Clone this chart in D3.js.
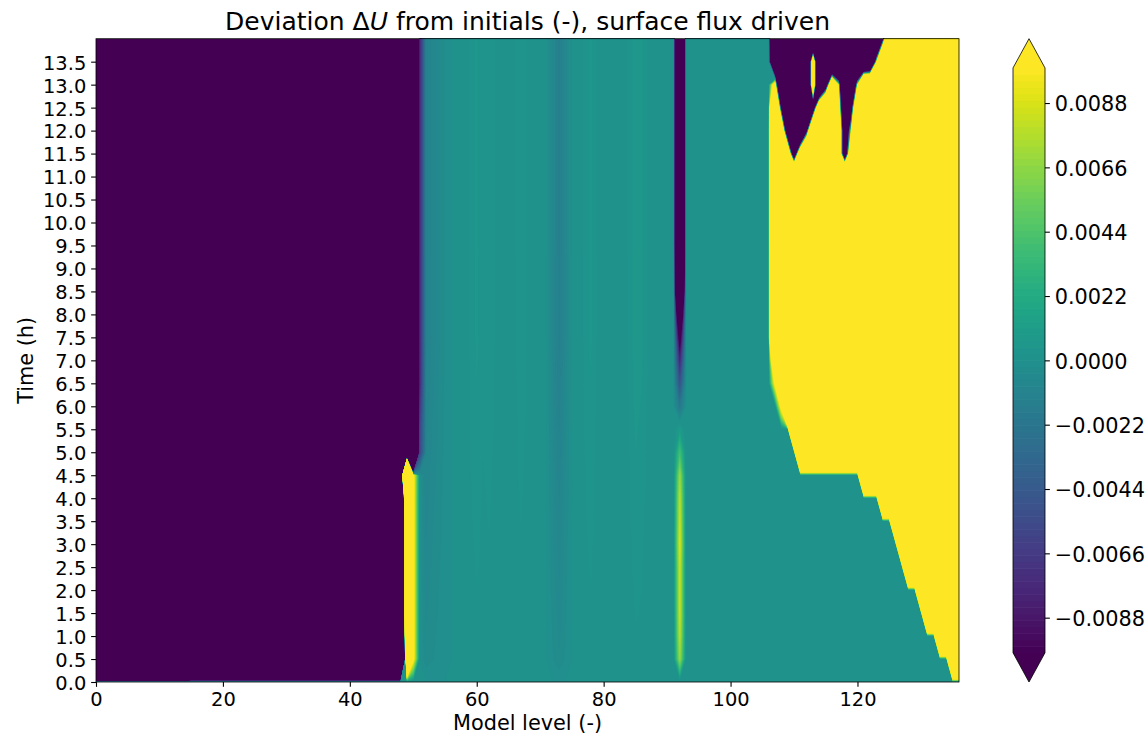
<!DOCTYPE html>
<html>
<head>
<meta charset="utf-8">
<script src="https://cdn.jsdelivr.net/npm/d3@7"></script>
<style>
  html, body { margin: 0; padding: 0; background: #ffffff; }
  svg { display: block; font-family: "DejaVu Sans", sans-serif; }
</style>
</head>
<body>
<svg id="chart" width="1148" height="734"></svg>
<script>
// ---------------------------------------------------------------------------
// Grid: model levels (columns) and output times in hours (rows)
// ---------------------------------------------------------------------------
const levels = d3.range(0, 137);
const hours = [0.0, 0.5, 1.0, 1.5, 2.0, 2.5, 3.0, 3.5, 4.0, 4.5, 5.0, 5.5, 6.0, 6.5,
               7.0, 7.5, 8.0, 8.5, 9.0, 9.5, 10.0, 10.5, 11.0, 11.5, 12.0, 12.5, 13.0, 13.5, 14.0];

// Deep negative block in the lower model levels (all rows after t = 0)
const leftBlockSpans = [
  { from: 0,  to: 14, value: -0.40 },
  { from: 15, to: 48, value: -0.15 }
];

// Columns at the edge of the lower block, one value per output time
const lvl49 = [0, 0.05, 0.08, 0.1, 0.1, 0.1, 0.1, 0.1, 0.12, 0.4,
               -0.15, -0.15, -0.15, -0.15, -0.15, -0.15, -0.15, -0.15, -0.15, -0.15,
               -0.15, -0.15, -0.15, -0.15, -0.15, -0.15, -0.15, -0.15, -0.15];
const lvl50 = [0, 0.011, 0.011, 0.011, 0.011, 0.011, 0.011, 0.011, 0.011, 0.011,
               -0.15, -0.15, -0.15, -0.15, -0.15, -0.15, -0.15, -0.15, -0.15, -0.15,
               -0.15, -0.15, -0.15, -0.15, -0.15, -0.15, -0.15, -0.15, -0.15];
const lvl51 = [0, 0, 0, 0, 0, 0, 0, 0, 0, 0,
               -0.006, -0.006, -0.007, -0.008, -0.008, -0.008, -0.008, -0.008, -0.008, -0.008,
               -0.008, -0.008, -0.008, -0.008, -0.008, -0.008, -0.008, -0.008, -0.008];

// Narrow jet at level 92, one value per output time
const col92 = [0, 0.007, 0.008, 0.0085, 0.0085, 0.0085, 0.009, 0.0085, 0.008, 0.007,
               0.004, 0.001, -0.002, -0.005, -0.008, -0.012, -0.02, -0.04, -0.05, -0.06,
               -0.06, -0.06, -0.06, -0.06, -0.06, -0.06, -0.06, -0.06, -0.06];

// Weak drift across the central band
const driftLevels = [52, 53, 54, 55, 59, 60, 61, 62, 63, 66, 67, 68, 72, 73, 74,
                     77, 78, 79, 84, 85, 86, 87];
const driftValues = [-0.0012, -0.0008, -0.0005, -0.0002, 0.0003, 0.0005, 0.0003, 0.0004,
                     0.0002, 0.0002, 0.0004, 0.0002, -0.0007, -0.0014, -0.0006,
                     0.0003, 0.0005, 0.0002, 0.0003, 0.0006, 0.0005, 0.0002];
const driftWeight = [0, 0.3, 0.35, 0.4, 0.45, 0.5, 0.55, 0.6, 0.65, 0.7,
                     0.75, 0.8, 0.85, 0.9, 0.95, 1, 1, 1, 1, 1,
                     1, 1, 1, 1, 1, 1, 1, 1, 1];

// Upper model levels: first strongly positive level per output time
const rightStart = [137, 135, 133, 131, 130, 128, 127, 126, 124, 121,
                    111, 110, 109, 108, 108, 107, 107, 107, 107, 107,
                    107, 107, 107, 107, 107, 107, 107, 107, 107];
// Partial value just below that level
const rightFringe = [0, 0, 0, 0, 0, 0, 0, 0, 0, 0,
                     0, 0, 0.012, 0.011, 0.025, 0, 0, 0, 0, 0,
                     0, 0, 0, 0, 0, 0, 0, 0, 0];
const positiveValue = 0.08;

// Negative pockets near the top levels late in the run: [start, end] levels
const lobeHours = [11.5, 12.0, 12.5, 13.0, 13.5, 14.0];
const lobeSpans = [
  [[109.5, 110.5], [117.5, 118.5]],
  [[108.5, 112.2], [117.5, 118.9]],
  [[107.8, 113.4], [117.3, 119.3]],
  [[107.2, 115.4], [117.1, 119.9]],
  [[106.4, 122.9]],
  [[106.0, 124.2]]
];
// Thin positive streak inside the first pocket
const spikeLevel = 113;
const spikeHours = [13.0, 13.5];
const spikeValues = [0.035, 0.035];

// Contour levels and colorbar ticks
const vmin = -0.01, vmax = 0.01;
const thresholds = d3.range(-45, 46).map(i => i * vmax / 45);
const xTicks = [0, 20, 40, 60, 80, 100, 120];
const yTicks = [0.0, 0.5, 1.0, 1.5, 2.0, 2.5, 3.0, 3.5, 4.0, 4.5, 5.0, 5.5, 6.0, 6.5,
                7.0, 7.5, 8.0, 8.5, 9.0, 9.5, 10.0, 10.5, 11.0, 11.5, 12.0, 12.5, 13.0, 13.5];
const cbarTicks = [-0.0088, -0.0066, -0.0044, -0.0022, 0.0, 0.0022, 0.0044, 0.0066, 0.0088];

// ---------------------------------------------------------------------------
// Assemble the field (row-major: one row per output time)
// ---------------------------------------------------------------------------
const nx = levels.length, ny = hours.length;
const field = new Float64Array(nx * ny);

hours.forEach((t, r) => {
  const row = new Array(nx).fill(0);
  driftLevels.forEach((L, k) => { row[L] = driftValues[k] * driftWeight[r]; });
  if (r > 0) {
    leftBlockSpans.forEach(s => { for (let L = s.from; L <= s.to; L++) row[L] = s.value; });
  }
  row[49] = lvl49[r];
  row[50] = lvl50[r];
  row[51] = lvl51[r];
  row[92] = col92[r];

  const s = rightStart[r];
  for (let L = s; L < nx; L++) row[L] = positiveValue;
  if (rightFringe[r]) row[s - 1] = rightFringe[r];

  const li = lobeHours.indexOf(t);
  if (li >= 0) {
    const spans = lobeSpans[li];
    for (let L = 100; L < nx; L++) {
      let inside = -1, outside = Infinity;
      spans.forEach(([a, b]) => {
        if (L >= a && L <= b) inside = Math.max(inside, Math.min(L - a, b - L));
        else outside = Math.min(outside, Math.abs(L - a), Math.abs(L - b));
      });
      if (inside >= 0) row[L] = -positiveValue * Math.min(1, inside);
      else if (L >= s) row[L] = Math.min(row[L], positiveValue * Math.min(1, outside));
    }
  }
  const si = spikeHours.indexOf(t);
  if (si >= 0) row[spikeLevel] = spikeValues[si];

  row.forEach((v, L) => { field[r * nx + L] = v; });
});

// ---------------------------------------------------------------------------
// Layout and scales
// ---------------------------------------------------------------------------
const plot = { left: 96, right: 959, top: 38.7, bottom: 682 };
const x = d3.scaleLinear().domain([0, 136]).range([plot.left, plot.right]);
const y = d3.scaleLinear().domain([0, 14]).range([plot.bottom, plot.top]);
const rowTime = d3.scaleLinear().domain([0.5, ny - 0.5]).range([hours[0], hours[ny - 1]]);

const step = thresholds[1] - thresholds[0];
const underColor = d3.interpolateViridis(0);
const overColor = d3.interpolateViridis(1);
const bandColor = k => k >= thresholds.length - 1
  ? overColor
  : d3.interpolateViridis((thresholds[k] + step / 2 - vmin) / (vmax - vmin));

const svg = d3.select('#chart');

svg.append('defs').append('clipPath').attr('id', 'plot-clip')
  .append('rect')
  .attr('x', plot.left).attr('y', plot.top)
  .attr('width', plot.right - plot.left).attr('height', plot.bottom - plot.top);

// ---------------------------------------------------------------------------
// Filled contours
// ---------------------------------------------------------------------------
const gridToScreen = d3.geoTransform({
  point(gx, gy) { this.stream.point(x(gx - 0.5), y(rowTime(gy))); }
});
const contourPath = d3.geoPath(gridToScreen);
const bands = d3.contours().size([nx, ny]).thresholds(thresholds)(field);

const layer = svg.append('g').attr('clip-path', 'url(#plot-clip)');
layer.append('rect')
  .attr('x', plot.left).attr('y', plot.top)
  .attr('width', plot.right - plot.left).attr('height', plot.bottom - plot.top)
  .attr('fill', underColor);
layer.selectAll('path.band')
  .data(bands)
  .join('path')
  .attr('class', 'band')
  .attr('d', contourPath)
  .attr('fill', (d, i) => bandColor(i));

// ---------------------------------------------------------------------------
// Axes
// ---------------------------------------------------------------------------
const tickLen = 4.86, tickPad = 4.86;

const styleAxis = (g, size) => {
  g.attr('font-family', '"DejaVu Sans", sans-serif').attr('font-size', size);
  g.select('.domain').remove();
  g.selectAll('.tick line').attr('stroke', '#000').attr('stroke-width', 1.1);
  g.selectAll('.tick text').attr('fill', '#000');
};

svg.append('g')
  .attr('transform', `translate(0,${plot.bottom})`)
  .call(d3.axisBottom(x).tickValues(xTicks).tickFormat(d3.format('d'))
    .tickSize(tickLen).tickPadding(tickPad).tickSizeOuter(0))
  .call(g => styleAxis(g, 19.44))
  .call(g => g.selectAll('.tick text').attr('dy', '0.71em'));

svg.append('g')
  .attr('transform', `translate(${plot.left},0)`)
  .call(d3.axisLeft(y).tickValues(yTicks).tickFormat(d3.format('.1f'))
    .tickSize(tickLen).tickPadding(tickPad).tickSizeOuter(0))
  .call(g => styleAxis(g, 19.44))
  .call(g => g.selectAll('.tick text').attr('dy', '0.38em'));

// Frame
svg.append('rect')
  .attr('x', plot.left).attr('y', plot.top)
  .attr('width', plot.right - plot.left).attr('height', plot.bottom - plot.top)
  .attr('fill', 'none').attr('stroke', '#000').attr('stroke-width', 0.8);

// Axis labels and title
svg.append('text')
  .attr('x', (plot.left + plot.right) / 2).attr('y', 729.5)
  .attr('text-anchor', 'middle').attr('font-size', 20.83).attr('fill', '#000')
  .text('Model level (-)');

svg.append('text')
  .attr('transform', `translate(32.5,${(plot.top + plot.bottom) / 2}) rotate(-90)`)
  .attr('text-anchor', 'middle').attr('font-size', 20.83).attr('fill', '#000')
  .text('Time (h)');

const title = svg.append('text')
  .attr('x', (plot.left + plot.right) / 2).attr('y', 30.4)
  .attr('text-anchor', 'middle').attr('font-size', 25).attr('fill', '#000');
title.append('tspan').text('Deviation \u0394');
title.append('tspan').attr('font-style', 'italic').text('U');
title.append('tspan').text(' from initials (-), surface flux driven');

// ---------------------------------------------------------------------------
// Colorbar with extensions at both ends
// ---------------------------------------------------------------------------
const cbar = { left: 1013, right: 1045, top: 38.7, bottom: 682 };
const extLen = (cbar.bottom - cbar.top) / 1.1 * 0.05;
const cb = d3.scaleLinear().domain([vmin, vmax]).range([cbar.bottom - extLen, cbar.top + extLen]);
const cbMid = (cbar.left + cbar.right) / 2;

const cbg = svg.append('g');
cbg.selectAll('rect.cband')
  .data(thresholds.slice(0, -1))
  .join('rect')
  .attr('class', 'cband')
  .attr('x', cbar.left)
  .attr('width', cbar.right - cbar.left)
  .attr('y', (d, k) => cb(thresholds[k + 1]))
  .attr('height', (d, k) => cb(thresholds[k]) - cb(thresholds[k + 1]) + 0.6)
  .attr('fill', (d, k) => bandColor(k));

cbg.append('path')
  .attr('d', `M${cbar.left},${cb(vmax)}L${cbMid},${cbar.top}L${cbar.right},${cb(vmax)}Z`)
  .attr('fill', overColor);
cbg.append('path')
  .attr('d', `M${cbar.left},${cb(vmin)}L${cbMid},${cbar.bottom}L${cbar.right},${cb(vmin)}Z`)
  .attr('fill', underColor);
cbg.append('path')
  .attr('d', `M${cbar.left},${cb(vmax)}L${cbMid},${cbar.top}L${cbar.right},${cb(vmax)}` +
             `L${cbar.right},${cb(vmin)}L${cbMid},${cbar.bottom}L${cbar.left},${cb(vmin)}Z`)
  .attr('fill', 'none').attr('stroke', '#000').attr('stroke-width', 0.8);

svg.append('g')
  .attr('transform', `translate(${cbar.right},0)`)
  .call(d3.axisRight(cb).tickValues(cbarTicks).tickFormat(d3.format('.4f'))
    .tickSize(tickLen).tickPadding(tickPad).tickSizeOuter(0))
  .call(g => styleAxis(g, 20.83))
  .call(g => g.selectAll('.tick text').attr('dy', '0.38em'));
</script>
</body>
</html>
